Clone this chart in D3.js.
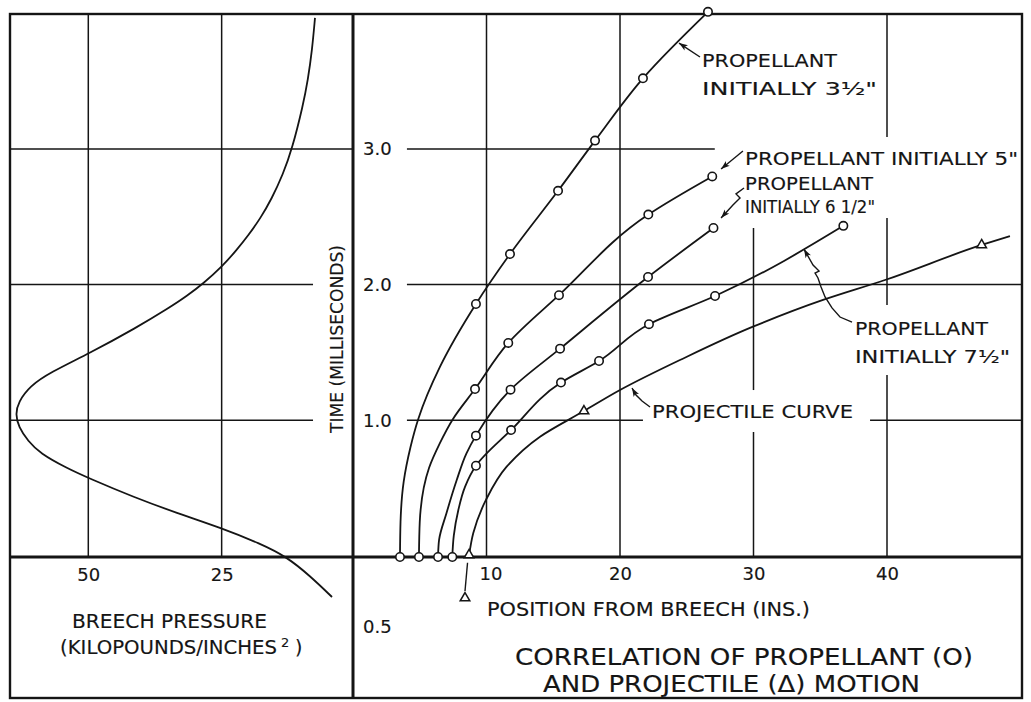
<!DOCTYPE html>
<html><head><meta charset="utf-8">
<script src="https://cdn.jsdelivr.net/npm/d3@7"></script>
<style>
html,body{margin:0;padding:0;background:#fff;}
svg{display:block;background:#fff;}
text{font-family:"DejaVu Sans", "Liberation Sans", sans-serif; fill:#151515; stroke:#151515; stroke-width:0.15;}
</style></head><body>
<svg id="chart" width="1031" height="702"></svg>
<script>
// ---------------- DATA ----------------
const posTicks = [10, 20, 30, 40];
const posTickLabels = ["10", "20", "30", "40"];
const timeTicks = [1.0, 2.0, 3.0];
const timeTickLabels = ["1.0", "2.0", "3.0"];
const strayTimeLabel = "0.5";
const pressureTicks = [50, 25];
const pressureTickLabels = ["50", "25"];

// Breech pressure (kilopounds / in^2) against time (ms)
const breechPressure = [7.5, 8.04, 8.83, 9.73, 11.79, 13.48, 15.64, 17.7, 19.93, 22.33, 24.93, 28.27, 31.51, 34.89, 41.08, 49.78, 57.18, 60.93, 63.12, 63.65, 63.08, 61.3, 59.06, 54.05, 50.0, 41.56, 33.43, 24.99, 17.81, 12.75, 8.44, 4.31];
const breechTime     = [3.965, 3.729, 3.508, 3.323, 2.999, 2.815, 2.631, 2.491, 2.366, 2.248, 2.133, 2.014, 1.916, 1.828, 1.68, 1.494, 1.352, 1.253, 1.135, 1.046, 0.951, 0.847, 0.757, 0.648, 0.575, 0.435, 0.317, 0.206, 0.092, -0.007, -0.147, -0.302];

// Propellant curves: [position from breech (in), time (ms)]
const prop35Curve = [[3.52,0],[3.56,0.25],[3.8,0.55],[4.3,0.8],[4.89,1.01],[6.52,1.395],[9.21,1.857],[11.76,2.225],[15.36,2.691],[18.13,3.061],[21.72,3.52],[26.59,4.01]];
const prop35Marks = [[3.52,0],[9.21,1.857],[11.76,2.225],[15.36,2.691],[18.13,3.061],[21.72,3.52],[26.59,4.01]];

const prop5Curve = [[4.94,0],[5.0,0.25],[5.7,0.65],[6.5,0.83],[7.49,1.01],[9.14,1.23],[11.63,1.57],[15.43,1.922],[22.12,2.516],[26.91,2.797]];
const prop5Marks = [[4.94,0],[9.14,1.23],[11.63,1.57],[15.43,1.922],[22.12,2.516],[26.91,2.797]];

const prop65Curve = [[6.37,0],[6.45,0.12],[7.0,0.315],[7.77,0.56],[8.5,0.757],[9.21,0.887],[11.8,1.226],[15.51,1.528],[22.1,2.056],[27.0,2.417]];
const prop65Marks = [[6.37,0],[9.21,0.887],[11.8,1.226],[15.51,1.528],[22.1,2.056],[27.0,2.417]];

const prop75Curve = [[7.44,0],[7.55,0.15],[7.89,0.339],[8.39,0.51],[9.21,0.665],[11.84,0.928],[15.58,1.278],[18.43,1.437],[22.17,1.708],[27.12,1.916],[36.73,2.433]];
const prop75Marks = [[7.44,0],[9.21,0.665],[11.84,0.928],[15.58,1.278],[18.43,1.437],[22.17,1.708],[27.12,1.916],[36.73,2.433]];

// Projectile curve
const projCurve = [[8.69,0],[9.01,0.169],[9.96,0.413],[11.51,0.658],[14.01,0.879],[17.3,1.068],[20.0,1.223],[24.49,1.444],[29.96,1.69],[35.21,1.887],[39.85,2.034],[47.09,2.292],[49.21,2.358]];
const projMarks = [[8.69,0],[17.3,1.068],[47.09,2.292]];
const projStrayMark = [[8.39,-0.31]];

// ---------------- LAYOUT ----------------
const frame = {left: 10, top: 14, right: 1022, bottom: 698};
const ink = "#151515";
const svg = d3.select("#chart");

const x = d3.scaleLinear().domain([0, 50]).range([353, 1020.5]);   // position (in)
const y = d3.scaleLinear().domain([0, 4]).range([556, 13.2]);      // time (ms)
const p = d3.scaleLinear().domain([0, 50]).range([355, 88.3]);     // pressure (reversed)
const axisY = 557;

const defs = svg.append("defs");
defs.append("marker").attr("id", "arr")
  .attr("viewBox", "0 0 10 8").attr("refX", 10).attr("refY", 4)
  .attr("markerWidth", 10).attr("markerHeight", 7).attr("markerUnits", "userSpaceOnUse")
  .attr("orient", "auto")
  .append("path").attr("d", "M0,0.5 L10,4 L0,7.5 L2.5,4 Z").attr("fill", ink);

const grid = svg.append("g").attr("stroke", ink).attr("stroke-width", 1.5).attr("fill", "none");
function seg(x1, y1, x2, y2) { grid.append("line").attr("x1", x1).attr("y1", y1).attr("x2", x2).attr("y2", y2); }

// left panel grid
pressureTicks.forEach(v => seg(p(v), frame.top, p(v), axisY));
seg(frame.left, y(3), x(0), y(3));
seg(frame.left, y(2), p(7.87), y(2));
seg(frame.left, y(1), p(7.87), y(1));

// right panel grid (broken where labels sit)
const vGridSegs = [
  {v: 10, spans: [[0, 4]]},
  {v: 20, spans: [[0, 4]]},
  {v: 30, spans: [[0, 0.914], [1.223, 2.417]]},
  {v: 40, spans: [[0, 1.334], [1.85, 2.491], [3.088, 4]]}
];
vGridSegs.forEach(d => d.spans.forEach(s => seg(x(d.v), Math.min(y(s[0]), axisY), x(d.v), Math.max(y(s[1]), frame.top))));
const hGridSegs = [
  {v: 3, spans: [[4.04, 27.1]]},
  {v: 2, spans: [[4.04, 50.2]]},
  {v: 1, spans: [[4.04, 21.72], [38.73, 50.2]]}
];
hGridSegs.forEach(d => d.spans.forEach(s => seg(x(s[0]), y(d.v), Math.min(x(s[1]), frame.right), y(d.v))));

// frame, divider, time-zero axis
svg.append("rect").attr("x", frame.left).attr("y", frame.top)
  .attr("width", frame.right - frame.left).attr("height", frame.bottom - frame.top)
  .attr("fill", "none").attr("stroke", ink).attr("stroke-width", 2.4);
svg.append("line").attr("x1", x(0)).attr("x2", x(0)).attr("y1", frame.top).attr("y2", frame.bottom)
  .attr("stroke", ink).attr("stroke-width", 3);
svg.append("line").attr("x1", frame.left).attr("x2", frame.right).attr("y1", axisY).attr("y2", axisY)
  .attr("stroke", ink).attr("stroke-width", 3);

// curves
const curves = svg.append("g").attr("fill", "none").attr("stroke", ink).attr("stroke-width", 1.8);
const lineR = d3.line().x(d => x(d[0])).y(d => y(d[1])).curve(d3.curveMonotoneY);
[prop35Curve, prop5Curve, prop65Curve, prop75Curve, projCurve].forEach(c => curves.append("path").attr("d", lineR(c)));

const breech = breechPressure.map((v, i) => [v, breechTime[i]]);
const lineL = d3.line().x(d => p(d[0])).y(d => y(d[1])).curve(d3.curveBasis);
curves.append("path").attr("d", lineL(breech));

// annotation leaders (data units)
const leaders = [
  [[25.99,3.677],[24.42,3.78]],
  [[29.21,2.985],[27.57,2.852]],
  [[29.29,2.712],[28.69,2.668],[28.99,2.638],[28.46,2.587],[27.57,2.491]],
  [[37.38,1.724],[36.48,1.761],[35.88,1.828],[35.36,1.909],[35.06,1.982],[34.83,2.049],[34.61,2.085],[34.91,2.1],[34.46,2.144],[33.78,2.262]],
  [[22.25,1.098],[21.65,1.142],[21.2,1.186],[20.9,1.238]]
];
const leaderLine = d3.line().x(d => x(d[0])).y(d => y(d[1])).curve(d3.curveLinear);
leaders.forEach(l => svg.append("path").attr("d", leaderLine(l)).attr("fill", "none")
  .attr("stroke", ink).attr("stroke-width", 1.4).attr("marker-end", "url(#arr)"));
svg.append("line").attr("x1", x(8.58)).attr("y1", y(-0.05)).attr("x2", x(8.39)).attr("y2", y(-0.258))
  .attr("stroke", ink).attr("stroke-width", 1.4);

// markers
const marks = svg.append("g");
[prop35Marks, prop5Marks, prop65Marks, prop75Marks].forEach(m =>
  marks.selectAll(null).data(m).enter().append("circle")
    .attr("cx", d => x(d[0])).attr("cy", d => y(d[1]) + (d[1] === 0 ? 1 : 0)).attr("r", 4.2)
    .attr("fill", "#fff").attr("stroke", ink).attr("stroke-width", 1.6));
const tri = d3.symbol().type(d3.symbolTriangle).size(40);
marks.selectAll(null).data(projMarks.concat(projStrayMark)).enter().append("path")
  .attr("d", tri).attr("transform", d => `translate(${x(d[0])},${y(d[1]) + (d[1] === 0 ? -1 : 0)})`)
  .attr("fill", "#fff").attr("stroke", ink).attr("stroke-width", 1.5);

// axes (tick labels only)
const axFont = 18;
function styleAxis(g) {
  g.select(".domain").remove();
  g.selectAll("text").attr("font-size", axFont).attr("font-family", "DejaVu Sans").attr("fill", ink);
}
const gx = svg.append("g").attr("transform", `translate(0,${axisY})`)
  .call(d3.axisBottom(x).tickValues(posTicks).tickFormat((d, i) => posTickLabels[i]).tickSize(0).tickPadding(10));
styleAxis(gx);
gx.selectAll("text").attr("dx", d => d === 10 ? 4 : 0);

const gp = svg.append("g").attr("transform", `translate(0,${axisY})`)
  .call(d3.axisBottom(p).tickValues(pressureTicks).tickFormat((d, i) => pressureTickLabels[i]).tickSize(0).tickPadding(11));
styleAxis(gp);

const gy = svg.append("g").attr("transform", `translate(360,0)`)
  .call(d3.axisRight(y).tickValues(timeTicks).tickFormat((d, i) => timeTickLabels[i]).tickSize(0).tickPadding(3));
styleAxis(gy);

// texts
function label(str, tx, ty, size, len) {
  const t = svg.append("text").attr("x", tx).attr("y", ty).attr("font-size", size).text(str);
  if (len) t.attr("textLength", len).attr("lengthAdjust", "spacingAndGlyphs");
  return t;
}
label(strayTimeLabel, 363, 633, 18);
label("BREECH PRESSURE", 72, 628, 20, 195);
const kp = svg.append("text").attr("x", 60).attr("y", 654).attr("font-size", 19);
kp.append("tspan").attr("textLength", 217).attr("lengthAdjust", "spacingAndGlyphs").text("(KILOPOUNDS/INCHES");
kp.append("tspan").attr("x", 281).attr("dy", -7).attr("font-size", 13).text("2");
kp.append("tspan").attr("x", 295).attr("dy", 7).text(")");

svg.append("text").attr("transform", "translate(343,339) rotate(-90)")
  .attr("text-anchor", "middle").attr("font-size", 17).attr("textLength", 188).attr("lengthAdjust", "spacingAndGlyphs")
  .text("TIME (MILLISECONDS)");

label("PROPELLANT", 702, 67, 18, 135);
label("INITIALLY  3½\"", 702, 95, 18, 175);
label("PROPELLANT  INITIALLY 5\"", 745, 165, 18, 273);
label("PROPELLANT", 745, 190, 18, 128);
label("INITIALLY 6 1/2\"", 745, 213, 18, 130);
label("PROPELLANT", 855, 335, 18, 133);
label("INITIALLY 7½\"", 855, 363, 18, 155);
label("PROJECTILE  CURVE", 652, 418, 18, 201);

label("POSITION FROM BREECH (INS.)", 487, 616, 19, 323);
label("CORRELATION OF PROPELLANT (O)", 515, 665, 23, 458);
label("AND PROJECTILE (Δ) MOTION", 543, 692, 23, 377);
</script>
</body></html>
